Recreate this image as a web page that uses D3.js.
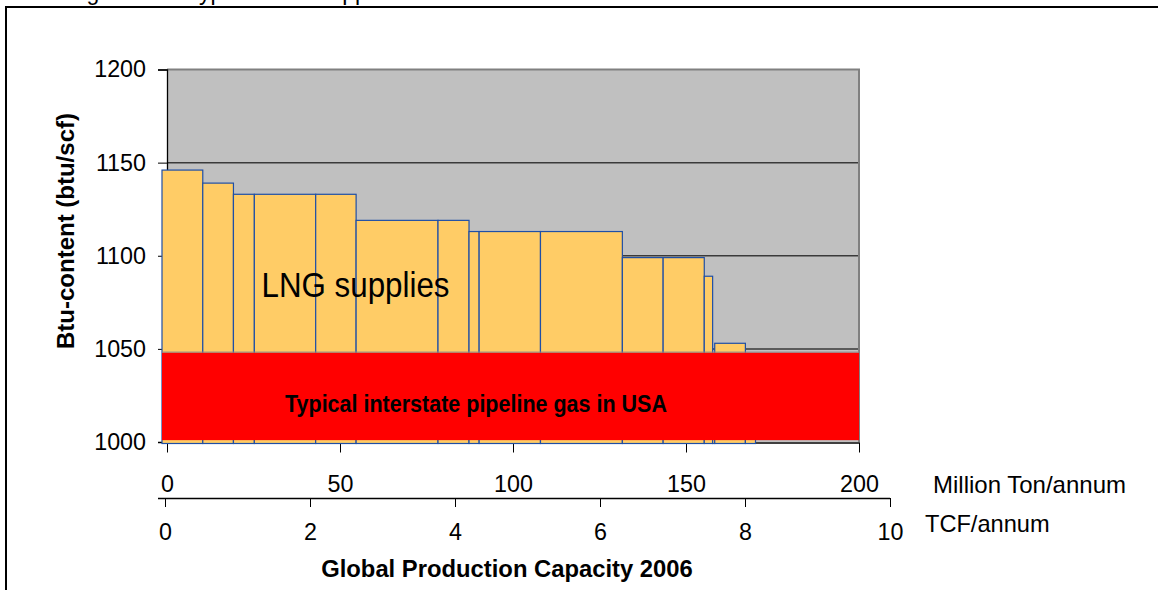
<!DOCTYPE html>
<html>
<head>
<meta charset="utf-8">
<script src="https://cdn.jsdelivr.net/npm/d3@7"></script>
<style>
  html, body { margin: 0; padding: 0; background: #fff; }
  svg { display: block; }
  text { font-family: "Liberation Sans", Arial, sans-serif; fill: #000; }
</style>
</head>
<body>
<svg id="chart" width="1158" height="590"></svg>
<script>
// LNG supply trains: capacity (Mt/a) and heating value (btu/scf)
const capacities = [11.7, 8.8, 6.0, 17.6, 11.6, 23.5, 8.9, 2.9, 17.6, 23.5, 11.7, 11.8, 2.4, 0.6, 8.8, 2.9];
const btuContent = [1146, 1139, 1133, 1133, 1133, 1119, 1119, 1113, 1113, 1113, 1099, 1099, 1089, 1045, 1053, 1045];

// Typical interstate pipeline gas band (btu/scf)
const pipelineBand = [1001, 1048];

// Axis ticks
const btuTicks = [1000, 1050, 1100, 1150, 1200];
const mtTicks = [0, 50, 100, 150, 200];
const tcfTicks = [0, 2, 4, 6, 8, 10];

const FONT = "Liberation Sans, Arial, sans-serif";
const svg = d3.select("#chart");

// Scales
const y = d3.scaleLinear().domain([1000, 1200]).range([442, 69.5]);
const xMt = d3.scaleLinear().domain([0, 200]).range([167, 859]);
const xTcf = d3.scaleLinear().domain([0, 10]).range([165, 890]);
const xCap = d3.scaleLinear().domain([0, 200]).range([162, 859]);

// Outer frame
svg.append("path")
  .attr("d", "M6,600 L6,7 L1170,7")
  .attr("fill", "none").attr("stroke", "#000").attr("stroke-width", 2);

// Heading, running off the top edge
svg.append("text")
  .attr("x", 20).attr("y", 0)
  .attr("font-size", 23)
  .attr("fill", "#222")
  .text("Heating value of typical LNG supplies");

// Plot background
svg.append("rect")
  .attr("x", xMt(0)).attr("y", y(1200))
  .attr("width", xMt(200) - xMt(0)).attr("height", y(1000) - y(1200))
  .attr("fill", "#C0C0C0");

// Gridlines
svg.append("g").selectAll("line")
  .data(btuTicks.filter(d => d > 1000 && d < 1200))
  .join("line")
  .attr("x1", xMt(0)).attr("x2", xMt(200))
  .attr("y1", d => y(d)).attr("y2", d => y(d))
  .attr("stroke", "#3a3a3a").attr("stroke-width", 1.5);

// Plot border (top and right)
svg.append("path")
  .attr("d", `M${xMt(0)},${y(1200)} L${xMt(200)},${y(1200)} L${xMt(200)},${y(1000)}`)
  .attr("fill", "none").attr("stroke", "#808080").attr("stroke-width", 2);

// Y axis
const yAxis = d3.axisLeft(y).tickValues(btuTicks).tickSize(9).tickPadding(12).tickFormat(d3.format("d"));
const gy = svg.append("g").attr("transform", `translate(${xMt(0)},0)`).call(yAxis);
gy.select(".domain").attr("stroke", "#000").attr("stroke-width", 1.3);
gy.selectAll(".tick line").attr("stroke", "#000");
gy.selectAll(".tick text").attr("font-size", 23.3).attr("font-family", FONT).attr("fill", "#000");

// Mt/a axis (plot baseline)
const mtAxis = d3.axisBottom(xMt).tickValues(mtTicks).tickSize(10).tickPadding(23).tickSizeOuter(0);
const gx = svg.append("g").attr("transform", `translate(0,${y(1000) + 0.5})`).call(mtAxis);
gx.select(".domain").attr("stroke", "#000").attr("stroke-width", 1.3);
gx.selectAll(".tick line").attr("stroke", "#000");
gx.selectAll(".tick text").attr("font-size", 23.3).attr("font-family", FONT).attr("fill", "#000");

// Capacity bars
let acc = 0;
const bars = capacities.map((c, i) => {
  const b = { x0: acc, x1: acc + c, v: btuContent[i] };
  acc += c;
  return b;
});
svg.append("g").selectAll("rect")
  .data(bars)
  .join("rect")
  .attr("x", d => xCap(d.x0))
  .attr("width", d => xCap(d.x1) - xCap(d.x0))
  .attr("y", d => y(d.v))
  .attr("height", d => y(1000) + 1.5 - y(d.v))
  .attr("fill", "#FFCC66")
  .attr("stroke", "#1F4FA6")
  .attr("stroke-width", 1.2);

// Pipeline gas band
svg.append("rect")
  .attr("x", xCap(0)).attr("width", xCap(200) - xCap(0))
  .attr("y", y(pipelineBand[1])).attr("height", y(pipelineBand[0]) - y(pipelineBand[1]))
  .attr("fill", "#FF0000");
svg.append("line")
  .attr("x1", xCap(0)).attr("x2", xCap(200))
  .attr("y1", y(pipelineBand[1]) - 0.5).attr("y2", y(pipelineBand[1]) - 0.5)
  .attr("stroke", "#8a8a8a").attr("stroke-width", 1);

// In-plot labels
svg.append("text")
  .attr("x", 261.5).attr("y", 296.5)
  .attr("font-family", "Lato, 'Open Sans', sans-serif")
  .attr("font-size", 35)
  .attr("textLength", 188).attr("lengthAdjust", "spacingAndGlyphs")
  .text("LNG supplies");

svg.append("text")
  .attr("x", 285).attr("y", 411.5)
  .attr("font-family", "Lato, 'Open Sans', sans-serif")
  .attr("font-weight", 900)
  .attr("font-size", 23.3)
  .attr("textLength", 382).attr("lengthAdjust", "spacingAndGlyphs")
  .text("Typical interstate pipeline gas in USA");

// TCF/annum axis
const tcfAxis = d3.axisBottom(xTcf).tickValues(tcfTicks).tickSize(9).tickPadding(16).tickSizeOuter(0);
const gt = svg.append("g").attr("transform", "translate(0,498)").call(tcfAxis);
gt.select(".domain").attr("d", `M158,0.5H${xTcf(10)}`).attr("stroke", "#000").attr("stroke-width", 1.3);
gt.selectAll(".tick line").attr("stroke", "#000");
gt.selectAll(".tick text").attr("font-size", 23.3).attr("font-family", FONT).attr("fill", "#000");

// Axis unit labels
svg.append("text").attr("x", 933).attr("y", 492.5).attr("font-size", 24).text("Million Ton/annum");
svg.append("text").attr("x", 925).attr("y", 531.5).attr("font-size", 23.6).text("TCF/annum");

// Axis titles
svg.append("text")
  .attr("x", 507).attr("y", 577)
  .attr("text-anchor", "middle")
  .attr("font-size", 23.8).attr("font-weight", "bold")
  .text("Global Production Capacity 2006");

svg.append("text")
  .attr("transform", "translate(74,231) rotate(-90)")
  .attr("text-anchor", "middle")
  .attr("font-size", 24).attr("font-weight", "bold")
  .text("Btu-content (btu/scf)");
</script>
</body>
</html>
